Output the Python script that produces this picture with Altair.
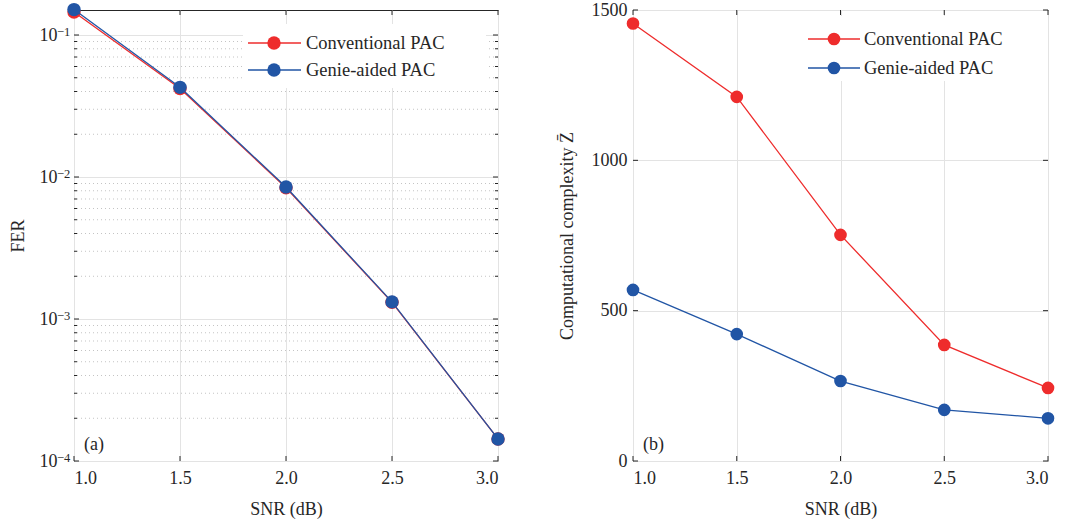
import altair as alt
import pandas as pd

# ---------------- data ----------------
snr = [1.0, 1.5, 2.0, 2.5, 3.0]
series = ["Conventional PAC", "Genie-aided PAC"]
colors = ["#EE2C2C", "#2155A5"]
fer_conv = [0.145, 0.0420, 0.0084, 0.00131, 0.000143]
fer_genie = [0.151, 0.0428, 0.0085, 0.00132, 0.000143]
cc_conv = [1455, 1211, 752, 386, 243]
cc_genie = [569, 422, 266, 170, 142]

x_ticks = [1.0, 1.5, 2.0, 2.5, 3.0]
fer_major = [1e-4, 1e-3, 1e-2, 1e-1]
fer_exponents = ["−4", "−3", "−2", "−1"]
fer_minor_mult = [2, 3, 4, 5, 6, 7, 8, 9]
fer_minor = [m * d for d in [1e-4, 1e-3, 1e-2] for m in fer_minor_mult]
cc_ticks = [0, 500, 1000, 1500]

FONT = "Liberation Serif, Times New Roman, serif"
FS = 18
W1, W2, H = 424, 415, 451
FRAME = "#262626"
GRID = "#e3e3e3"

x_scale = alt.Scale(domain=[1, 3], nice=False)
x_axis = alt.Axis(values=x_ticks, format=".1f", grid=True, gridColor=GRID, ticks=False,
                  domain=False, labelFont=FONT, labelFontSize=FS, labelPadding=8,
                  labelColor=FRAME, title="SNR (dB)", titleFont=FONT, titleFontSize=FS,
                  titleFontWeight="normal", titleColor=FRAME, titlePadding=13)


def X(field):
    return alt.X(field, type="quantitative", scale=x_scale, axis=x_axis)


# ---- left panel (FER, log) ----
yl_scale = alt.Scale(type="log", domain=[1e-4, 0.15], nice=False)
yl_axis = alt.Axis(values=fer_major, grid=True, gridColor=GRID, ticks=False, domain=False,
                   labelFont=FONT, labelFontSize=FS, labelPadding=17, labelColor=FRAME,
                   labelExpr="'10'",
                   title="FER", titleFont=FONT, titleFontSize=FS, titleFontWeight="normal",
                   titleColor=FRAME, titlePadding=12)


def YL(field):
    return alt.Y(field, type="quantitative", scale=yl_scale, axis=yl_axis)


# ---- right panel (complexity) ----
yr_scale = alt.Scale(domain=[0, 1500], nice=False)
yr_axis = alt.Axis(values=cc_ticks, format="d", grid=True, gridColor=GRID, ticks=False, domain=False,
                   labelFont=FONT, labelFontSize=FS, labelPadding=6, labelColor=FRAME,
                   title="Computational complexity Z̄", titleFont=FONT, titleFontSize=FS,
                   titleFontWeight="normal", titleColor=FRAME, titlePadding=15)


def YR(field):
    return alt.Y(field, type="quantitative", scale=yr_scale, axis=yr_axis)


def panel(Yf, vals_list, W, minor, major, tag, leg_box, leg_pos, size, exps=None):
    layers = []
    df_minor = pd.DataFrame({"v": minor})
    if minor:
        layers.append(alt.Chart(df_minor).mark_rule(color="#c4c4c4", strokeDash=[1, 3], strokeWidth=1)
                      .encode(y=Yf("v")))
    # legend white background
    layers.append(alt.Chart(pd.DataFrame({"a": [0]})).mark_rect(color="white").encode(
        x=alt.value(leg_box[0]), x2=alt.value(leg_box[1]), y=alt.value(leg_box[2]), y2=alt.value(leg_box[3])))
    # inward ticks
    df_xt = pd.DataFrame({"t": x_ticks})
    layers.append(alt.Chart(df_xt).mark_rule(color=FRAME).encode(x=X("t"), y=alt.value(H - 5), y2=alt.value(H)))
    layers.append(alt.Chart(df_xt).mark_rule(color=FRAME).encode(x=X("t"), y=alt.value(0), y2=alt.value(5)))
    df_yt = pd.DataFrame({"t": major})
    layers.append(alt.Chart(df_yt).mark_rule(color=FRAME).encode(y=Yf("t"), x=alt.value(0), x2=alt.value(5)))
    layers.append(alt.Chart(df_yt).mark_rule(color=FRAME).encode(y=Yf("t"), x=alt.value(W - 5), x2=alt.value(W)))
    if minor:
        layers.append(alt.Chart(df_minor).mark_rule(color=FRAME).encode(y=Yf("v"), x=alt.value(0), x2=alt.value(3)))
        layers.append(alt.Chart(df_minor).mark_rule(color=FRAME).encode(y=Yf("v"), x=alt.value(W - 3), x2=alt.value(W)))
    if exps:
        df_e = pd.DataFrame({"t": major, "e": exps})
        layers.append(alt.Chart(df_e).mark_text(align="left", baseline="alphabetic", font=FONT,
                                                fontSize=12.5, color=FRAME, dy=1).encode(
            y=Yf("t"), x=alt.value(-17), text="e:N"))
    # data series
    for i, vals in enumerate(vals_list):
        df = pd.DataFrame({"snr": snr, "val": vals})
        base = alt.Chart(df).encode(x=X("snr"), y=Yf("val"))
        layers.append(base.mark_line(color=colors[i], strokeWidth=1.3, clip=False))
        layers.append(base.mark_circle(color=colors[i], size=size, opacity=1, clip=False))
    # legend
    lx0, lx1, lcx, ltx, ly0, ldy = leg_pos
    for i, s in enumerate(series):
        yy = ly0 + i * ldy
        one = pd.DataFrame({"s": [s]})
        layers.append(alt.Chart(one).mark_rule(color=colors[i], strokeWidth=1.3).encode(
            x=alt.value(lx0), x2=alt.value(lx1), y=alt.value(yy)))
        layers.append(alt.Chart(one).mark_circle(color=colors[i], size=size, opacity=1).encode(
            x=alt.value(lcx), y=alt.value(yy)))
        layers.append(alt.Chart(one).mark_text(align="left", baseline="middle", font=FONT, fontSize=18.5,
                                               color=FRAME).encode(
            x=alt.value(ltx), y=alt.value(yy), text="s:N"))
    # panel tag
    layers.append(alt.Chart(pd.DataFrame({"t": [tag]})).mark_text(
        align="left", baseline="alphabetic", font=FONT, fontSize=FS, color=FRAME).encode(
        x=alt.value(10), y=alt.value(440), text="t:N"))
    return alt.layer(*layers).properties(width=W, height=H)


left = panel(YL, [fer_conv, fer_genie], W1, fer_minor, fer_major, "(a)",
             (169, 412, 14, 78), (174, 227, 200, 232, 33, 27), 180, fer_exponents)
right = panel(YR, [cc_conv, cc_genie], W2, [], cc_ticks, "(b)",
              (164, 409, 6, 71), (175, 227, 201, 231, 29, 29), 160)

chart = alt.hconcat(left, right, spacing=51).properties(
    padding={"left": 8, "top": 0, "right": 5, "bottom": 5}
).configure_view(stroke=FRAME, strokeWidth=1)

chart.save("out.html", embed_options={"renderer": "svg", "actions": False})
